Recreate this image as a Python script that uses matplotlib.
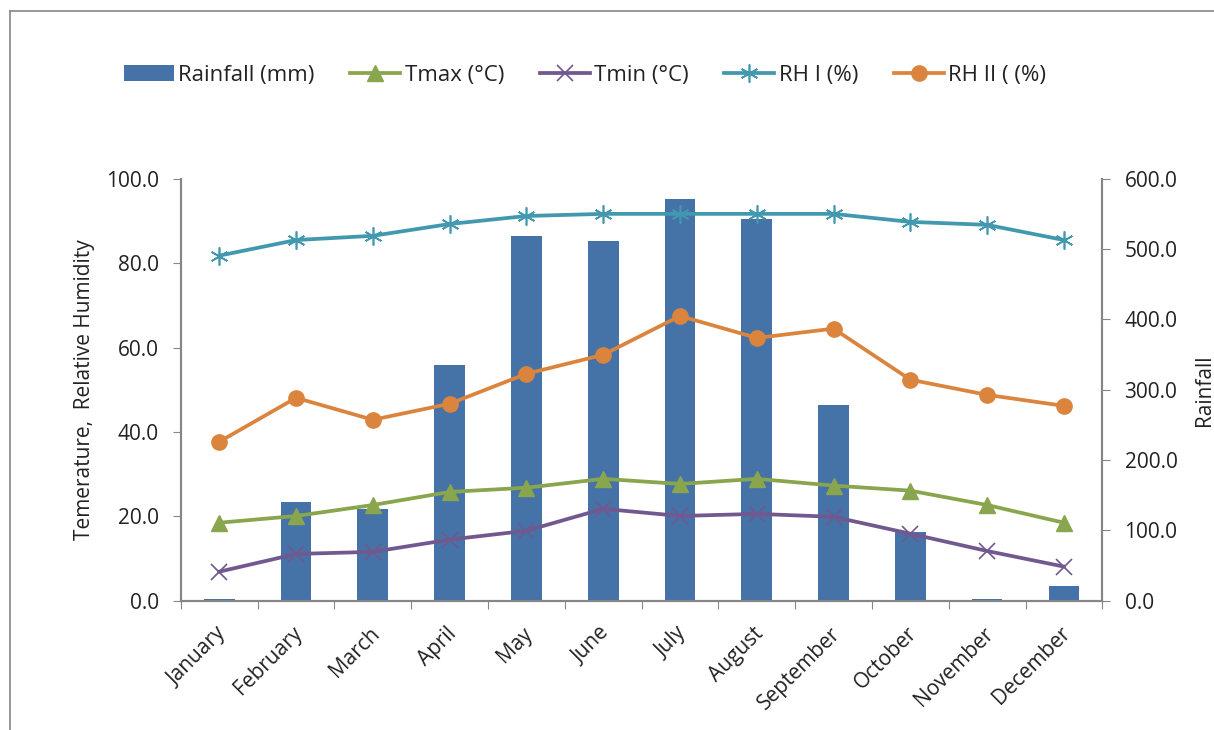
import matplotlib
matplotlib.use('Agg')
import matplotlib.pyplot as plt
import matplotlib.transforms as mtransforms
from matplotlib.lines import Line2D
import numpy as np

plt.rcParams['font.family'] = ['Open Sans', 'DejaVu Sans']

months = ["January", "February", "March", "April", "May", "June", "July",
          "August", "September", "October", "November", "December"]
rainfall = [3, 141, 131, 336, 519, 512, 572, 543, 279, 98, 3, 21]
tmax = [18.5, 20.1, 22.7, 25.8, 26.8, 28.9, 27.7, 28.9, 27.3, 26.1, 22.7, 18.5]
tmin = [6.9, 11.1, 11.6, 14.5, 16.6, 21.8, 20.1, 20.6, 19.9, 15.9, 11.8, 8.1]
rh1 = [81.8, 85.5, 86.5, 89.3, 91.2, 91.7, 91.7, 91.7, 91.7, 89.8, 89.1, 85.5]
rh2 = [37.7, 48.1, 42.9, 46.7, 53.8, 58.3, 67.5, 62.3, 64.5, 52.4, 48.8, 46.2]

grey = '#868686'
txt = '#222222'
fs = 15

fig = plt.figure(figsize=(12.14, 7.3), dpi=100)
ax = fig.add_axes([0.149, 0.177, 0.759, 0.578])
ax2 = ax.twinx()
ax.set_zorder(ax2.get_zorder() + 1)
ax.patch.set_visible(False)

x = np.arange(len(months))
bars = ax2.bar(x, rainfall, width=0.4, color='#4572A7', label='Rainfall (mm)')

l1, = ax.plot(x, tmax, color='#89A54E', lw=2.7, marker='^', ms=11, label='Tmax (°C)')
l2, = ax.plot(x, tmin, color='#71588F', lw=2.7, marker='x', ms=11, mew=1.2, label='Tmin (°C)')
l3, = ax.plot(x, rh1, color='#4198AF', lw=2.7, marker=(6, 2, 0), ms=13, mew=1.2, label='RH I (%)')
l4, = ax.plot(x, rh2, color='#DB843D', lw=2.7, marker='o', ms=11, label='RH II ( (%)')

ax.set_xlim(-0.5, 11.5)
ax.set_ylim(0, 100)
ax2.set_ylim(0, 600)
ax.set_yticks(np.arange(0, 101, 20))
ax.set_yticklabels([f'{v:.1f}' for v in np.arange(0, 101, 20)])
ax2.set_yticks(np.arange(0, 601, 100))
ax2.set_yticklabels([f'{v:.1f}' for v in np.arange(0, 601, 100)])

ax.set_xticks(np.arange(-0.5, 12, 1))
ax.set_xticklabels([])
ax.set_xticks(x, minor=True)
ax.set_xticklabels(months, minor=True, rotation=45, ha='right', rotation_mode='anchor')
ax.tick_params(axis='x', which='minor', length=0, labelsize=fs, colors=txt, pad=16)
ax.tick_params(axis='x', which='major', length=6, color=grey)
ax.tick_params(axis='y', length=6, color=grey, labelsize=fs, labelcolor=txt, pad=10)
ax2.tick_params(axis='y', length=6, color=grey, labelsize=fs, labelcolor=txt, pad=10)

# nudge month labels a little to the left, as in the original
shift = mtransforms.ScaledTranslation(-4 / 100, 0, fig.dpi_scale_trans)
for lab in ax.get_xticklabels(minor=True):
    lab.set_transform(lab.get_transform() + shift)

for a in (ax, ax2):
    a.spines['top'].set_visible(False)
    for s in ('left', 'right', 'bottom'):
        a.spines[s].set_color(grey)
        a.spines[s].set_linewidth(1.5)

ax.set_ylabel('Temerature,  Relative Humidity', fontsize=fs, color=txt, labelpad=8)
ax2.set_ylabel('Rainfall', fontsize=fs, color=txt, labelpad=12)

fig.legend(handles=[bars, l1, l2, l3, l4], loc='center', bbox_to_anchor=(0.482, 0.897),
           ncol=5, frameon=False, fontsize=16, handlelength=2.25, columnspacing=1.6,
           handletextpad=0.2, labelcolor=txt)

# outer chart frame
fig.add_artist(Line2D([10 / 1214, 1], [1 - 11 / 730, 1 - 11 / 730], color=grey, lw=1.2))
fig.add_artist(Line2D([10 / 1214, 10 / 1214], [0, 1 - 11 / 730], color=grey, lw=1.2))

fig.savefig('out.png', dpi=100, facecolor='white')
